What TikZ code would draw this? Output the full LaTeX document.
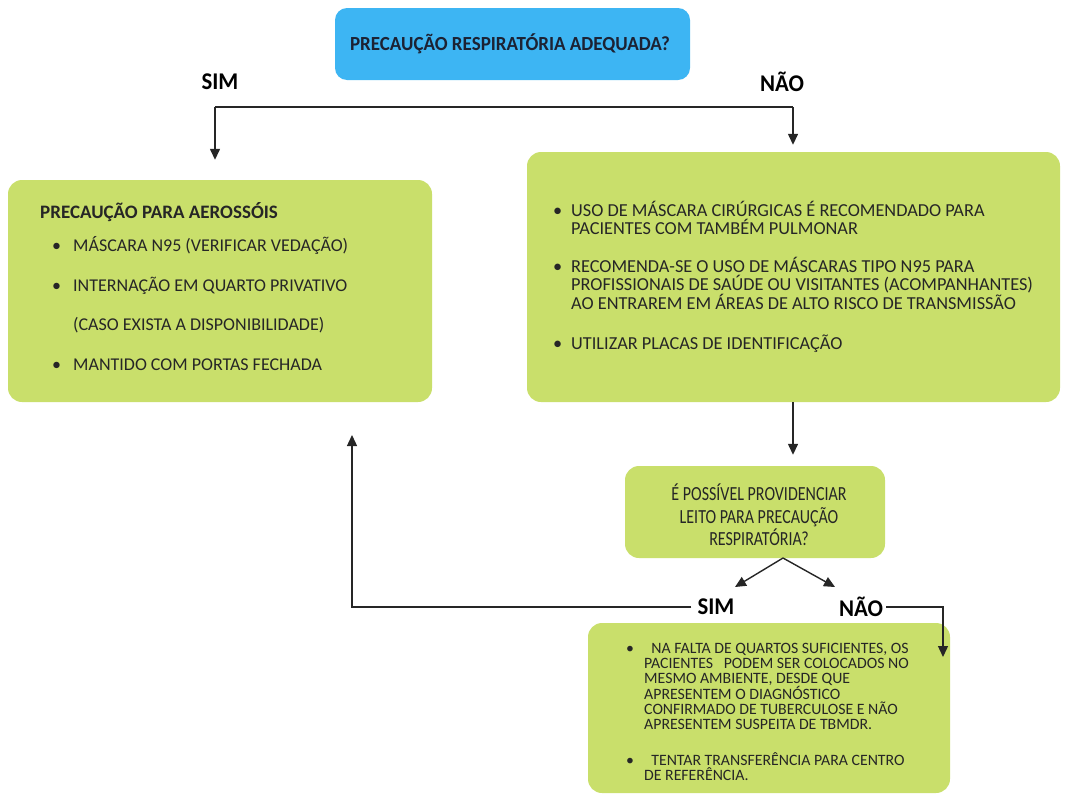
\documentclass[tikz,border=0pt]{standalone}
\usepackage{fontspec}
\setmainfont{Carlito}
\newfontfamily\condfont{Carlito}[FakeStretch=0.95]
\newfontfamily\narrowfont{Carlito}[FakeStretch=0.80]
\usetikzlibrary{arrows.meta}
\definecolor{boxgreen}{HTML}{C9DF6B}
\definecolor{boxblue}{HTML}{3DB5F3}
\definecolor{ink}{HTML}{262626}
\definecolor{navy}{HTML}{1C2233}
\newcommand\bul{\makebox[18pt][l]{\textbullet}}
\begin{document}
\begin{tikzpicture}[x=1pt,y=-1pt,
  greenbox/.style={fill=boxgreen, rounded corners=14pt, draw=none, inner sep=0pt},
  bluebox/.style={fill=boxblue, rounded corners=12pt, draw=none, inner sep=0pt},
  body/.style={text=ink, inner sep=0pt, align=left},
  yesno/.style={font=\condfont\bfseries\fontsize{24}{26}\selectfont, text=black, inner sep=0pt},
  link/.style={draw=ink, line width=1.4pt},
  arr/.style={link, -{Triangle[width=10pt,length=11pt]}}
]
\useasboundingbox (0,0) rectangle (1065,798);

% question box
\node[bluebox, minimum width=355pt, minimum height=72pt] (top) at (512.5,44) {};
\node[font=\condfont\bfseries\fontsize{20}{22}\selectfont, text=navy, inner sep=0pt] (toptext) at (510,44)
  {PRECAUÇÃO RESPIRATÓRIA ADEQUADA?};
\node[yesno] (sim1) at (220,82) {SIM};
\node[yesno] (nao1) at (782,82) {NÃO};

% answer boxes
\node[greenbox, minimum width=424pt, minimum height=222pt] (leftbox) at (220,291) {};
\node[greenbox, minimum width=533pt, minimum height=250pt] (rightbox) at (793.5,277) {};

\node[body, anchor=north west, font=\fontsize{18}{39.5}\selectfont] (lefttext) at (40,202)
  {{\fontsize{19}{20}\selectfont\textbf{PRECAUÇÃO PARA AEROSSÓIS}}\\[-6pt]
   \hspace*{12pt}\makebox[21pt][l]{\textbullet}MÁSCARA N95 (VERIFICAR VEDAÇÃO)\\
   \hspace*{12pt}\makebox[21pt][l]{\textbullet}INTERNAÇÃO EM QUARTO PRIVATIVO\\
   \hspace*{33pt}(CASO EXISTA A DISPONIBILIDADE)\\
   \hspace*{12pt}\makebox[21pt][l]{\textbullet}MANTIDO COM PORTAS FECHADA};

\node[body, anchor=north west, font=\fontsize{18.3}{18.5}\selectfont] (righttext) at (553,201)
  {\bul USO DE MÁSCARA CIRÚRGICAS É RECOMENDADO PARA\\
   \hspace*{18pt}PACIENTES COM TAMBÉM PULMONAR\\[19pt]
   \bul RECOMENDA-SE O USO DE MÁSCARAS TIPO N95 PARA\\
   \hspace*{18pt}PROFISSIONAIS DE SAÚDE OU VISITANTES (ACOMPANHANTES)\\
   \hspace*{18pt}AO ENTRAREM EM ÁREAS DE ALTO RISCO DE TRANSMISSÃO\\[21.5pt]
   \bul UTILIZAR PLACAS DE IDENTIFICAÇÃO};

% second question
\node[greenbox, minimum width=260pt, minimum height=92pt] (mid) at (755,512) {};
\node[font=\narrowfont\fontsize{20}{22.5}\selectfont, text=ink, align=center, inner sep=0pt] (midtext) at (759,515)
  {É POSSÍVEL PROVIDENCIAR\\ LEITO PARA PRECAUÇÃO\\ RESPIRATÓRIA?};
\node[yesno] (sim2) at (716,607) {SIM};
\node[yesno] (nao2) at (861,607) {NÃO};

% fallback box
\node[greenbox, minimum width=362pt, minimum height=170pt] (bottom) at (769,708) {};
\node[body, anchor=north west, font=\fontsize{15.8}{15}\selectfont] (bottomtext) at (626,643)
  {\bul\ \ NA FALTA DE QUARTOS SUFICIENTES, OS\\
   \hspace*{18pt}PACIENTES \ \ PODEM SER COLOCADOS NO\\
   \hspace*{18pt}MESMO AMBIENTE, DESDE QUE\\
   \hspace*{18pt}APRESENTEM O DIAGNÓSTICO\\
   \hspace*{18pt}CONFIRMADO DE TUBERCULOSE E NÃO\\
   \hspace*{18pt}APRESENTEM SUSPEITA DE TBMDR.\\[21pt]
   \bul\ \ TENTAR TRANSFERÊNCIA PARA CENTRO\\
   \hspace*{18pt}DE REFERÊNCIA.};

% connectors
\coordinate (splitl) at (215,107);
\coordinate (splitr) at (793,107);
\draw[link] (splitl) -- (splitr);
\draw[arr, shorten >=20pt] (splitl) -- (splitl |- leftbox.north);
\draw[arr, shorten >=7pt] (splitr) -- (splitr |- rightbox.north);
\draw[arr, shorten >=11pt] (splitr |- rightbox.south) -- (splitr |- mid.north);
\coordinate (fork) at (783,558);
\coordinate (forkl) at (735,587);
\coordinate (forkr) at (835,587);
\draw[arr] (fork) -- (forkl);
\draw[arr] (fork) -- (forkr);
\coordinate (backup) at (352,435);
\draw[arr] ([xshift=-6pt]sim2.west) -| (backup);
\coordinate (down) at (943,657);
\draw[arr] ([xshift=3pt]nao2.east) -| (down);
\end{tikzpicture}
\end{document}
